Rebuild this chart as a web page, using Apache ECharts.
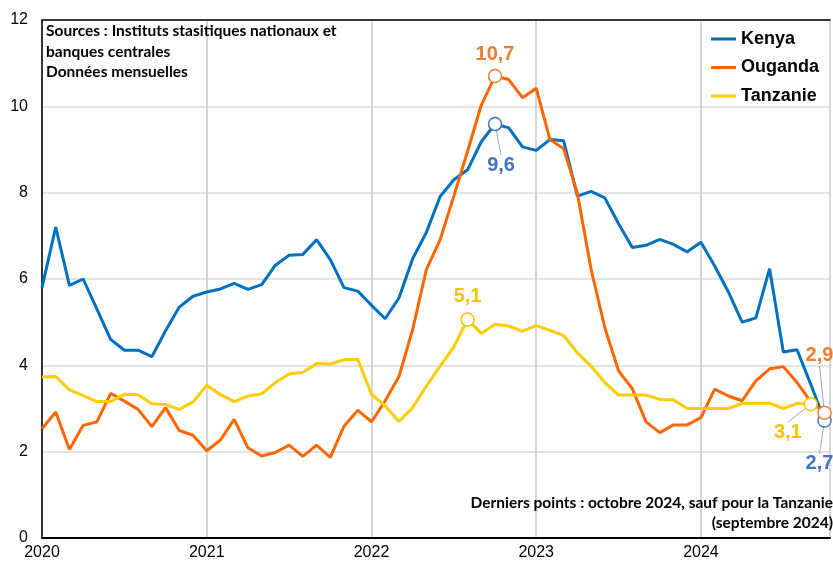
<!DOCTYPE html>
<html>
<head>
<meta charset="utf-8">
<script src="https://cdn.jsdelivr.net/npm/echarts@6/dist/echarts.min.js"></script>
<style>
  html, body { margin: 0; padding: 0; background: #fff; }
  #chart { width: 833px; height: 561px; }
</style>
</head>
<body>
<div id="chart"></div>
<script>
// monthly data, index 0 = janvier 2020
var years = ['2020', '2021', '2022', '2023', '2024'];

var kenya = [
    5.8, 7.2, 5.85, 6.0, 5.3, 4.6, 4.35, 4.35, 4.2, 4.8, 5.35, 5.6,
    5.7, 5.77, 5.9, 5.76, 5.87, 6.32, 6.55, 6.57, 6.91, 6.45, 5.8, 5.72,
    5.39, 5.08, 5.56, 6.47, 7.08, 7.91, 8.3, 8.53, 9.18, 9.59, 9.5, 9.06,
    8.98, 9.23, 9.2, 7.92, 8.03, 7.88, 7.28, 6.73, 6.78, 6.92, 6.8, 6.63,
    6.85, 6.3, 5.7, 5.0, 5.1, 6.24, 4.31, 4.36, 3.56, 2.72
];
var ouganda = [
    2.53, 2.92, 2.05, 2.61, 2.69, 3.35, 3.17, 2.98, 2.58, 3.02, 2.49, 2.38,
    2.02, 2.27, 2.75, 2.09, 1.9, 1.98, 2.15, 1.89, 2.15, 1.87, 2.59, 2.96,
    2.69, 3.18, 3.74, 4.83, 6.22, 6.91, 7.92, 8.96, 10.03, 10.7, 10.62, 10.2,
    10.42, 9.23, 9.02, 7.98, 6.22, 4.87, 3.87, 3.46, 2.69, 2.44, 2.62, 2.62,
    2.79, 3.45, 3.29, 3.18, 3.64, 3.92, 3.97, 3.6, 3.16, 2.9
];
var tanzanie = [
    3.73, 3.74, 3.43, 3.3, 3.16, 3.16, 3.33, 3.32, 3.11, 3.09, 2.98, 3.15,
    3.54, 3.32, 3.16, 3.29, 3.34, 3.6, 3.8, 3.84, 4.04, 4.03, 4.13, 4.14,
    3.33, 3.06, 2.7, 3.02, 3.52, 3.98, 4.43, 5.06, 4.74, 4.95, 4.91, 4.79,
    4.92, 4.81, 4.69, 4.29, 3.98, 3.6, 3.31, 3.31, 3.31, 3.21, 3.2, 3.0,
    3.0, 3.0, 3.0, 3.12, 3.12, 3.12, 3.0, 3.12, 3.1
];

// points mis en évidence (indices de mois)
var kenyaMarks = [33, 57];
var ougandaMarks = [33, 57];
var tanzanieMarks = [31, 56];

var FONT = 'Liberation Sans, Arial, sans-serif';
var NOTE_FONT = 'bold 15.5px Lato, sans-serif';

function toPairs(arr) {
    return arr.map(function (v, i) { return [i, v]; });
}

// guides: trait de rappel ou non pour chaque point
function marks(arr, idx, guides) {
    return idx.map(function (i, k) {
        return { value: [i, arr[i]], labelLine: { show: guides[k] } };
    });
}

function fmt(p) {
    return p.value[1].toFixed(1).replace('.', ',');
}

function lineSeries(name, data, color) {
    return {
        name: name,
        type: 'line',
        data: toPairs(data),
        showSymbol: false,
        lineStyle: { color: color, width: 3 },
        itemStyle: { color: color },
        z: 2
    };
}

function markSeries(name, data, color, offsets) {
    return {
        name: name,
        type: 'scatter',
        data: data,
        symbol: 'circle',
        symbolSize: 13,
        itemStyle: { color: '#fff', borderColor: color, borderWidth: 1.5, opacity: 1 },
        label: {
            show: true,
            position: 'inside',
            formatter: fmt,
            color: color,
            fontFamily: FONT,
            fontWeight: 'bold',
            fontSize: 20
        },
        labelLayout: function (p) {
            var o = offsets[p.dataIndex];
            return { dx: o[0], dy: o[1] };
        },
        labelLine: {
            show: true,
            lineStyle: { color: '#a6a6a6', width: 1 }
        },
        emphasis: { disabled: true },
        z: 5
    };
}

var chart = echarts.init(document.getElementById('chart'));

var option = {
    animation: false,
    grid: { left: 42, right: 0, top: 20, bottom: 22, containLabel: false },
    legend: {
        data: ['Kenya', 'Ouganda', 'Tanzanie'],
        orient: 'vertical',
        left: 706,
        top: 24,
        icon: 'rect',
        itemWidth: 25,
        itemHeight: 3,
        itemGap: 8.5,
        textStyle: {
            fontFamily: FONT,
            fontWeight: 'bold',
            fontSize: 18,
            color: '#000',
            lineHeight: 20
        }
    },
    xAxis: [{
        type: 'value',
        min: 0,
        max: 57.4,
        interval: 12,
        position: 'bottom',
        axisLine: { show: true, lineStyle: { color: '#000', width: 2 } },
        axisTick: { show: false },
        axisLabel: {
            margin: 7,
            color: '#000',
            fontFamily: FONT,
            fontSize: 16,
            formatter: function (v) {
                return v % 12 === 0 ? years[v / 12] : '';
            }
        },
        splitLine: { show: true, lineStyle: { color: '#c8c8c8', width: 1.5 } }
    }, {
        type: 'value',
        min: 0,
        max: 57.4,
        position: 'top',
        axisLine: { show: true, lineStyle: { color: '#000', width: 1.5 } },
        axisTick: { show: false },
        axisLabel: { show: false },
        splitLine: { show: false }
    }],
    yAxis: {
        type: 'value',
        min: 0,
        max: 12,
        interval: 2,
        axisLine: { show: true, lineStyle: { color: '#000', width: 1.5 } },
        axisTick: { show: false },
        axisLabel: {
            margin: 14,
            color: '#000',
            fontFamily: FONT,
            fontSize: 16
        },
        splitLine: { show: true, lineStyle: { color: '#dadada', width: 1.5 } }
    },
    series: [
        lineSeries('Kenya', kenya, '#0070c0'),
        lineSeries('Ouganda', ouganda, '#ff6600'),
        lineSeries('Tanzanie', tanzanie, '#ffcc00'),
        markSeries('Kenya pts', marks(kenya, kenyaMarks, [true, true]), '#4472c4', [[6, 41], [-5, 43]]),
        markSeries('Ouganda pts', marks(ouganda, ougandaMarks, [false, true]), '#ed7d31', [[0, -22], [-5, -57]]),
        markSeries('Tanzanie pts', marks(tanzanie, tanzanieMarks, [false, true]), '#ffc000', [[0, -23], [-23, 28]])
    ],
    graphic: [{
        type: 'text',
        left: 46,
        top: 21,
        style: {
            text: 'Sources : Instituts stasitiques nationaux et\nbanques centrales\nDonnées mensuelles',
            font: NOTE_FONT,
            lineHeight: 20.5,
            fill: '#000'
        },
        z: 10
    }, {
        type: 'text',
        right: 0,
        top: 495,
        style: { text: 'Derniers points : octobre 2024, sauf pour la Tanzanie', font: NOTE_FONT, fill: '#000' },
        z: 10
    }, {
        type: 'text',
        right: 0,
        top: 515,
        style: { text: '(septembre 2024)', font: NOTE_FONT, fill: '#000' },
        z: 10
    }]
};

chart.setOption(option);
</script>
</body>
</html>
